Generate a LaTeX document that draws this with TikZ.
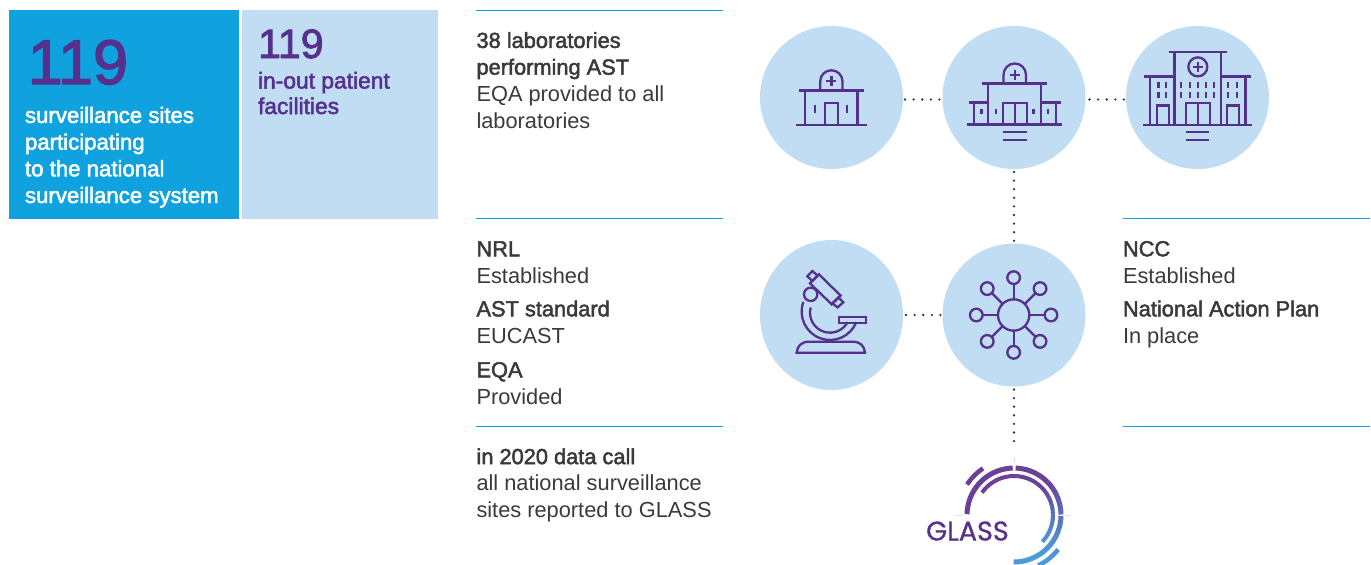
\documentclass[tikz,border=0pt]{standalone}
\usepackage{fontspec}
\usetikzlibrary{shapes.geometric}
\setmainfont{Liberation Sans}
\newfontfamily\medf[FakeBold=2.2]{Liberation Sans}
\newfontfamily\logof[FakeBold=0.8]{Poppins}
\definecolor{purp}{HTML}{55308D}
\definecolor{skyb}{HTML}{10A2DE}
\definecolor{pale}{HTML}{C1DDF3}
\definecolor{ink}{HTML}{3A3A3C}
\definecolor{logoa}{HTML}{6A3F98}
\definecolor{logob}{HTML}{4A9CD8}
\tikzset{
  x=1pt,y=-1pt,
  panel/.style={draw=none,inner sep=0pt,outer sep=0pt,anchor=north west},
  disc/.style={circle,fill=pale,draw=none,minimum size=143pt,inner sep=0pt,outer sep=0pt},
  discv/.style={ellipse,fill=pale,draw=none,minimum width=143pt,minimum height=150pt,inner sep=0pt,outer sep=0pt},
  rule/.style={draw=skyb,line width=0.9pt},
  dots/.style={draw=ink,line width=2.6pt,line cap=round,dash pattern=on 0pt off 8.6pt},
  blk/.style={anchor=base west,inner sep=0pt,outer sep=0pt,align=left,text=ink,font=\fontsize{21.8}{26.7}\selectfont},
  wht/.style={blk,text=white,font=\medf\fontsize{22.2}{26.7}\selectfont},
  pur/.style={blk,text=purp,font=\medf\fontsize{22.8}{25.5}\selectfont},
  icon/.style={draw=purp,line width=2.3pt,line cap=butt,line join=miter},
  izoom/.style={x=0.339pt,y=-0.339pt},
  izoomb/.style={x=0.3333pt,y=-0.3333pt},
}
\begin{document}
\begin{tikzpicture}
\useasboundingbox (0,0) rectangle (1371,565);
% panels
\node[panel,fill=skyb,minimum width=230pt,minimum height=209pt] (p1) at (9,10) {};
\node[panel,fill=pale,minimum width=196pt,minimum height=209pt] (p2) at (242,10) {};
\node[anchor=base west,inner sep=0pt,text=purp,font=\medf\fontsize{63}{63}\selectfont] (n1) at (27.5,84) {119};
\node[wht] (t1) at (25,203) {surveillance sites\\participating\\to the national\\surveillance system};
\node[anchor=base west,inner sep=0pt,text=purp,font=\medf\fontsize{41}{41}\selectfont] (n2) at (258,58) {119};
\node[pur] (t2) at (258,114) {in-out patient\\facilities};
% rules
\coordinate (r1a) at (476,10.5); \coordinate (r1b) at (723,10.5);
\coordinate (r2a) at (476,218.5); \coordinate (r2b) at (723,218.5);
\coordinate (r3a) at (476,426.5); \coordinate (r3b) at (723,426.5);
\coordinate (r4a) at (1123,218.5); \coordinate (r4b) at (1370,218.5);
\coordinate (r5a) at (1123,426.5); \coordinate (r5b) at (1370,426.5);
\foreach \k in {1,...,5} \draw[rule] (r\k a) -- (r\k b);
% texts
\node[blk] (a1) at (476.5,128) {{\medf 38 laboratories}\\{\medf performing AST}\\EQA provided to all\\laboratories};
\node[blk] (a2) at (476.5,283) {{\medf NRL}\\Established};
\node[blk] (a3) at (476.5,343) {{\medf AST standard}\\EUCAST};
\node[blk] (a4) at (476.5,404) {{\medf EQA}\\Provided};
\node[blk] (a5) at (476.5,517.5) {{\medf in 2020 data call}\\all national surveillance\\sites reported to GLASS};
\node[blk] (b1) at (1123,283) {{\medf NCC}\\Established};
\node[blk] (b2) at (1123,343) {{\medf National Action Plan}\\In place};
% discs
\node[disc] (c1) at (831.5,97.5) {};
\node[disc] (c2) at (1014,97.5) {};
\node[disc] (c3) at (1197.5,97.5) {};
\node[discv] (c5) at (831.5,315) {};
\node[disc] (c4) at (1014,315) {};
\coordinate (glasstop) at (1014,448);
% connectors
\draw[dots,shorten <=2pt] ([yshift=-2pt]c1.east) -- ([yshift=-2pt]c2.west);
\draw[dots,shorten <=4pt] ([yshift=-2pt]c2.east) -- ([yshift=-2pt]c3.west);
\draw[dots,shorten <=3pt] (c2.south) -- (c4.north);
\draw[dots,shorten <=3pt] (c5.east) -- (c4.west);
\draw[dots,shorten <=3pt] (c4.south) -- (glasstop);
% hospital icons
\begin{scope}[xshift=750pt,yshift=-15pt,izoom]
  % small
  \draw[icon] (145,223)--(335,223) (136,325)--(344,325) (163,223)--(163,325) (317,223)--(317,325);
  \draw[icon] (222,325)--(222,260)--(260,260)--(260,325);
  \draw[icon] (192,265)--(192,288) (287,265)--(287,288);
  \draw[icon] (207,223)--(207,196) arc[start angle=180,end angle=360,radius=33] --(273,223);
  \draw[icon] (225,195)--(255,195) (240,180)--(240,210);
  % medium
  \draw[icon] (685,202)--(875,202) (703,202)--(703,323) (858,202)--(858,323);
  \draw[icon] (645,258)--(703,258) (858,258)--(916,258) (660,258)--(660,323) (902,258)--(902,323);
  \draw[icon] (640,323)--(920,323);
  \draw[icon] (747,323)--(747,259)--(817,259)--(817,323) (782,259)--(782,323);
  \draw[icon] (683,276)--(683,292) (725,276)--(725,292) (836,276)--(836,292) (878,276)--(878,292);
  \draw[icon] (748,202)--(748,176) arc[start angle=180,end angle=360,radius=33] --(814,202);
  \draw[icon] (766,176)--(796,176) (781,161)--(781,191);
  \draw[icon] (746,346)--(816,346) (746,368)--(816,368);
  % large
  \draw[icon] (1235,109)--(1407,109) (1252,109)--(1252,324) (1390,109)--(1390,324);
  \draw[icon] (1321,153) circle[radius=28];
  \draw[icon] (1306,153)--(1336,153) (1321,138)--(1321,168);
  \draw[icon] (1162,181)--(1252,181) (1390,181)--(1478,181) (1180,181)--(1180,324) (1462,181)--(1462,324);
  \draw[icon] (1160,324)--(1482,324);
  \draw[icon] (1286,324)--(1286,259)--(1356,259)--(1356,324) (1321,259)--(1321,324);
  \draw[icon] (1200,324)--(1200,267)--(1235,267)--(1235,324);
  \draw[icon] (1407,324)--(1407,267)--(1442,267)--(1442,324);
  \foreach \px in {1205,1228,1272,1297,1321,1345,1369,1411,1437}
    \draw[icon] (\px,198)--(\px,215) (\px,227)--(\px,244);
  \draw[icon] (1286,346)--(1355,346) (1286,368)--(1355,368);
\end{scope}
% microscope and network
\begin{scope}[xshift=750pt,yshift=-235pt,izoomb]
  \draw[icon] (140,353) .. controls (142,332) and (155,320) .. (178,320) -- (308,320) .. controls (330,320) and (343,332) .. (345,353) -- cycle;
  \draw[icon] (160.1,200.9) arc[start angle=200,end angle=22,radius=85];
  \draw[icon] (182,217.5) arc[start angle=195,end angle=28,radius=60];
  \draw[icon] (268,245) rectangle (348,265);
  \draw[icon,fill=pale] (182,178) circle[radius=20];
  \draw[icon,fill=pale] (207,118)--(272,182)--(245,208)--(180,145)--cycle;
  \draw[icon] (172,124)--(187,108)--(203,122)--(187,138)--cycle;
  \draw[icon] (247,205)--(265,187)--(280,202)--(263,217)--cycle;
  \draw[icon] (791,240) circle[radius=47];
  \foreach \a in {0,45,...,315}{
    \draw[icon] ([shift={(\a:47)}]791,240) -- ([shift={(\a:93)}]791,240);
    \draw[icon] ([shift={(\a:112)}]791,240) circle[radius=19];
  }
\end{scope}
% GLASS logo: visual angles are measured counter-clockwise from east
\begin{scope}[shift={(1014,515)}]
  \foreach \s/\e/\r/\w in {179/92/47/5,88/1/47/5,-1/-90/47/5,145/-43/39/4,147/124/56/4.5,-38/-64/56/4.5}{
    \pgfmathsetmacro{\n}{int(max(1,round(abs(\s-\e)/4)))}
    \foreach \i in {1,...,\n}{
      \pgfmathsetmacro{\aa}{\s+(\e-\s)*(\i-1)/\n}
      \pgfmathsetmacro{\bb}{\s+(\e-\s)*\i/\n-0.4}
      \pgfmathsetmacro{\tt}{max(0,min(100,70+70*(-0.35*cos(\aa)+0.93*sin(\aa))))}
      \pgfmathsetmacro{\la}{-\aa}
      \pgfmathsetmacro{\lb}{-\bb}
      \draw[line width=\w pt,draw={logoa!\tt!logob}] (\la:\r) arc[start angle=\la,end angle=\lb,radius=\r];
    }
  }
  \draw[line width=0.8pt,draw=pale,dash pattern=on 1.5pt off 1.5pt] (-58,0)--(-51,0) (51,0)--(57,0) (0,-58)--(0,-53);
\end{scope}
\node[anchor=base west,inner sep=0pt,text=purp,font=\logof\fontsize{27}{27}\selectfont] (glass) at (926,540.5) {GLASS};
\end{tikzpicture}
\end{document}
